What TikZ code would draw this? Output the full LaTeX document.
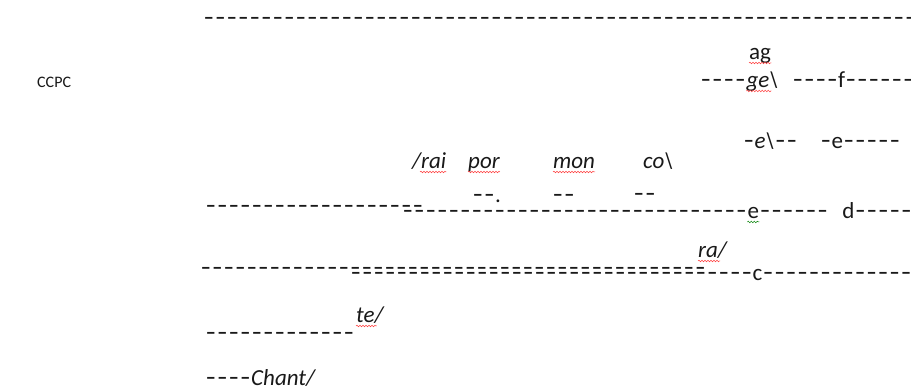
\documentclass[tikz,border=0pt]{standalone}
\usepackage{fontspec}
\usepackage{graphicx}
\setmainfont{Carlito}
\usetikzlibrary{decorations.pathmorphing}

% a run of spaced hyphens
\newlength\hyw
\setlength\hyw{11.5pt}
\newcommand\hy[1]{\foreach\k in {1,...,#1}{\makebox[\hyw]{\scalebox{1.35}[1.1]{-}}}}

\begin{document}
\begin{tikzpicture}[x=1pt, y=-1pt,
    font=\fontsize{23}{27}\selectfont,
    txt/.style={anchor=base west, inner sep=0pt, text=black!90},
    syl/.style={txt, font=\fontsize{23}{27}\selectfont\itshape},
    spell/.style={red!75, line width=0.5pt, decorate,
        decoration={snake, amplitude=0.8pt, segment length=3pt}}]
    \useasboundingbox[fill=white] (0,0) rectangle (911,390);

    % Top staff line
    \node[txt] (top) at (203,26) {\hy{62}};

    % Label
    \node[txt, font=\fontsize{16}{19}\selectfont] (ccpc) at (37,88) {CCPC};

    % High notes
    \node[txt] (ag) at (749,60) {ag};
    \node[txt] (r2a) at (700,88) {\hy{4}};
    \node[syl] (ge) at (r2a.base east) {ge\textbackslash};
    \node[txt] (r2b) at (792,88) {\hy{4}f\hy{6}};

    \node[txt] (r3a) at (743,149) {\hy{1}\textit{e\textbackslash}\hy{2}};
    \node[txt] (r3b) at (820,149) {\hy{1}e\hy{5}};

    % Syllables
    \node[syl] (rai) at (412,169) {/rai};
    \node[syl] (por) at (468,169) {por};
    \node[syl] (mon) at (553,169) {mon};
    \node[syl] (co) at (643,169) {co\textbackslash};

    \node[txt] (d1) at (472,203) {\hy{2}.};
    \node[txt] (d2) at (552,203) {\hy{2}};
    \node[txt] (d3) at (633,202) {\hy{2}};

    % Middle staff lines
    \node[txt] (r8a) at (205,214) {\hy{19}};
    \node[txt] (r8b) at (402,219) {\hy{30}};
    \node[txt] (e8) at (r8b.base east) {e};
    \node[txt] (r8c) at (e8.base east) {\hy{6}\hspace{14pt}d\hy{5}};

    \node[syl] (ra) at (698,258) {ra/};
    \node[txt] (r10a) at (200,276) {\hy{44}};
    \node[txt] (r10b) at (350,281) {\hy{35}c\hy{14}};

    % Low notes
    \node[syl] (te) at (356,323) {te/};
    \node[txt] (r12) at (205,341) {\hy{13}};
    \node[txt] (r13) at (205,385) {\hy{4}\textit{Chant/}};

    % Spelling marks
    \foreach \n/\a/\b in {ag/0/0, ge/0/-7, rai/8/0, por/0/0, mon/0/0, ra/0/-7, te/0/-7}
        \draw[spell] ([xshift=\a pt, yshift=-3pt]\n.base west) -- ([xshift=\b pt, yshift=-3pt]\n.base east);
    \draw[spell, green!50!black] ([yshift=-3pt]e8.base west) -- ([yshift=-3pt]e8.base east);
\end{tikzpicture}
\end{document}
